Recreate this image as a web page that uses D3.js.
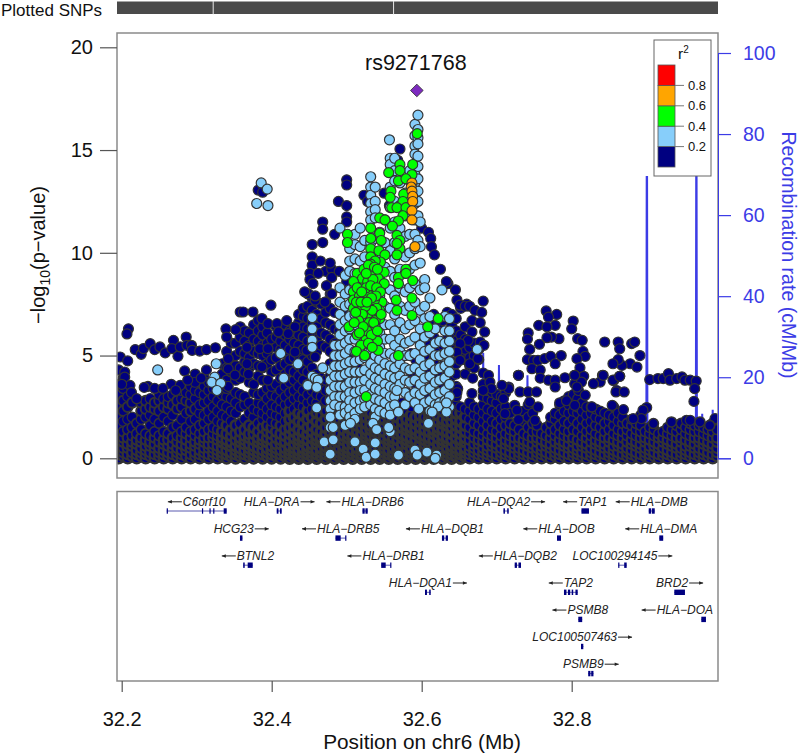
<!DOCTYPE html>
<html><head><meta charset="utf-8">
<script src="https://cdnjs.cloudflare.com/ajax/libs/d3/7.8.5/d3.min.js"></script>
<style>html,body{margin:0;background:#fff}svg{display:block}text{font-family:"Liberation Sans",Arial,sans-serif}</style>
</head><body><svg id="c" width="800" height="754"></svg>
<script>
// r2 < 0.2 : columns of the dense lower mass [position, [-log10p...]]
const navyBaseLeft = [
[32.196,[0,.2,.4,.6,.9,1.2,1.6,2.1,2.6,3.1,3.6,4.3]],[32.202,[.1,.3,.5,.8,1,1.3,1.8,2.3,2.8,3.4,3.9]],[32.208,[0,.2,.5,.7,1,1.4,1.9,2.5,3]],[32.214,[.1,.3,.6,.8,1.1,1.5,2,2.7]],[32.22,[0,.2,.4,.7,.9,1.2,1.7]],[32.226,[.1,.3,.5,.8,1,1.4,1.9,2.3,2.7]],[32.232,[0,.2,.4,.6,.9,1.2,2,2.4,2.8]],[32.238,[.1,.3,.6,.8,1.1,1.6,2.1,2.5,2.9]],[32.244,[0,.2,.5,.7,1,1.3,1.9,2.4,2.7]],[32.25,[.1,.3,.5,.8,1.1,1.7,2.3,2.8,3.1]],[32.256,[0,.2,.4,.7,.9,1.3,2,2.5,2.9]],[32.262,[.1,.3,.6,.9,1.2,1.8,2.4,2.7,3]],[32.268,[0,.2,.5,.7,1,1.5,2.1,2.6,3.1]],[32.274,[.1,.3,.5,.8,1.1,1.6,2.4,2.8]],[32.28,[0,.2,.4,.7,1,1.3,1.9,2.5,2.9,3.3]],[32.286,[.1,.4,.6,.9,1.2,1.5,2.2,2.8,3.2]],[32.292,[0,.2,.5,.7,1,1.3,1.8,2.3,2.7,3.1,3.5]],[32.298,[.1,.3,.6,.8,1.1,1.4,1.9,2.4,2.9,3.3]],[32.304,[0,.2,.4,.7,.9,1.2,1.6,2.2,2.6,3.2,3.7]],[32.31,[.1,.3,.5,.8,1,1.3,1.7,2.1,2.7,3.1,3.5,3.9]],[32.316,[0,.2,.5,.7,1,1.4,1.9,2.3,2.8,3.3,3.7]]
];
const navyBaseCentre = [
[32.322,[.1,.3,.5,.7,1,1.2,1.5,2,2.5,3,3.4]],[32.328,[0,.2,.4,.6,.9,1.1,1.4,1.8,2.3,2.8]],[32.334,[.1,.3,.5,.8,1,1.3,1.7,2.1,2.6,3.1,3.6,4.1,4.6]],[32.34,[0,.2,.4,.7,.9,1.2,1.6,2,2.5,3,3.4,3.8,4.4,5.2]],[32.346,[.1,.3,.6,.8,1.1,1.4,1.8,2.3,2.9,4.2,4.8,5.6]],[32.352,[0,.2,.4,.6,.9,1.2,1.6,2.2,2.7,3.2,3.8,4.5,5,5.6]],[32.358,[.1,.3,.5,.8,1,1.3,1.7,2.5,3.1,3.9,4.4,5.2,5.9,6.4]],[32.364,[0,.2,.4,.7,.9,1.1,1.4,1.9,2.6,3,4.2,4.7,5.1,5.7,6.2]],[32.37,[.1,.3,.5,.7,1,1.2,1.6,2.2,2.7,3.7,4.4,4.9,5.5,6.1]],[32.376,[0,.2,.4,.6,.9,1.2,1.5,2,2.4,3.2,3.6,4.6,5.2,5.8,6.5]],[32.382,[.1,.3,.5,.8,1,1.3,1.7,2.3,2.7,3.1,4,4.5,5.1,5.7,6.2,6.7]],[32.388,[0,.2,.4,.7,.9,1.1,1.5,1.9,2.2,2.6,3.2,3.8,4.4,5,5.5,6,6.4]],[32.394,[.1,.3,.5,.8,1,1.3,1.6,2,2.4,2.9,3.4,4.6,5.1,5.6,6.1]],[32.4,[0,.2,.4,.6,.9,1.2,1.5,1.8,2.2,2.6,3.1,3.5,4.2,4.8,5.4,5.8]],[32.406,[.1,.3,.5,.7,1,1.3,1.7,2.1,2.5,3,3.6,4.3,4.9,5.4,5.9,6.4]],[32.412,[0,.2,.4,.7,.9,1.2,1.6,2,2.4,2.8,3.3,3.9,4.5,5.3,5.7,6.1]],[32.418,[.1,.3,.5,.8,1.1,1.4,1.8,2.2,2.6,3,3.5,4.1,4.6,5.1,5.5,6,6.5]],[32.424,[0,.2,.4,.6,.9,1.2,1.5,1.9,2.3,2.7,3.2,3.7,4.3,4.8,5.3,5.8,6.2]],[32.43,[.1,.3,.5,.7,1,1.3,1.6,2,2.4,2.9,3.3,3.8,4.2,4.9,5.6,6.3]],[32.436,[0,.2,.4,.7,.9,1.1,1.4,1.8,2.2,2.6,3,3.5,4,4.5,5,5.5,6,6.6,7]],[32.442,[.1,.3,.5,.8,1,1.3,1.7,2.1,2.5,2.9,3.3,3.8,4.3,4.8,5.3,5.9,6.4,6.9,7.3]],[32.448,[0,.2,.4,.6,.9,1.2,1.5,1.9,2.3,2.7,3.1,3.6,4.2,4.7,5.2,5.7,6.3,6.8,7.4,8]],[32.454,[.1,.3,.5,.7,1,1.3,1.6,2,2.4,2.8,3.3,4.4,5,5.5,6.1,6.6,7.2,7.8]],[32.46,[0,.2,.4,.7,.9,1.1,1.4,1.8,2.2,2.7,3.1,3.6,4.1,5.2,5.8,6.4,7,7.6]],[32.466,[.1,.3,.5,.8,1,1.3,1.7,2.1,2.5,3,3.5,3.9,5.5,6.1,6.8,7.5]],[32.472,[0,.2,.4,.6,.9,1.2,1.5,1.9,2.3,2.8,3.3,3.8,5.4,6,6.6,7.1,7.6]],[32.478,[.1,.3,.5,.7,1,1.3,1.6,2,2.4,2.9,3.4,4,4.6,5.2,5.8,6.5,7.3,8]],[32.484,[0,.2,.4,.7,.9,1.1,1.4,1.8,2.2,2.6,3,3.6,4.2,4.8,5.6,6.3,7.1]],[32.49,[.1,.3,.5,.8,1,1.2,1.6,1.9,2.3,2.7,3.2,3.8,4.5,5.3,6.2]],[32.496,[0,.2,.4,.6,.9,1.1,1.4,1.7,2.1,2.5,2.9,3.5,4.2,5.1,6.1,7]],[32.502,[.1,.3,.5,.7,1,1.2,1.5,1.9,2.2,2.6,3.2,3.9,4.9]],[32.508,[0,.2,.4,.7,.9,1.1,1.4,1.7,2,2.4,2.8,3.4]],[32.514,[.1,.3,.5,.8,1,1.3,1.6,1.9,2.2,2.6,3.1,3.7,4.4]],[32.52,[0,.2,.4,.6,.9,1.2,1.5,1.8,2.1,2.4,2.9]],[32.526,[.1,.3,.5,.7,1,1.2,1.4,1.7,2,2.3,2.7]],[32.532,[0,.2,.4,.7,.9,1.1,1.4,1.6,1.9,2.2]],[32.538,[.1,.3,.5,.8,1,1.3,1.5,1.8,2.1]],[32.544,[0,.2,.4,.6,.9,1.2,1.4,1.7,2]],[32.55,[.1,.3,.5,.7,1,1.3,1.6,1.9,2.2]],[32.556,[0,.2,.4,.7,.9,1.1,1.4,1.7,2]],[32.562,[.1,.3,.5,.8,1,1.3,1.5,1.8,2.1,2.5]],[32.568,[0,.2,.4,.6,.9,1.2,1.4,1.7,2]],[32.574,[.1,.3,.5,.7,1,1.2,1.5,1.8,2.2,2.7]],[32.58,[0,.2,.4,.7,.9,1.1,1.4,1.6,1.9,2.3,3.2]],[32.586,[.1,.3,.5,.8,1,1.3,1.5,1.8,2.1,2.5,4.2,5.1]],[32.592,[0,.2,.4,.6,.9,1.2,1.4,1.7,2,2.9,3.6,4.8]],[32.598,[.1,.3,.5,.7,1,1.2,1.5,1.8,2.1,2.6,3.5,4.4,5.6]],[32.604,[0,.2,.4,.7,.9,1.1,1.4,1.7,2,2.4,3.1,3.9,5,6.2]],[32.61,[.1,.3,.5,.8,1,1.3,1.6,1.9,2.2,2.6,3.4,4.3,5.5,6.6]],[32.616,[0,.2,.4,.6,.9,1.2,1.4,1.7,2,2.4,3.7,4.7,5.9,7]],[32.622,[.1,.3,.5,.7,1,1.3,1.5,1.8,2.1,2.5,3.2,4,5.2,6.4]],[32.628,[0,.2,.4,.7,.9,1.1,1.4,1.7,1.9,2.3,2.9,3.6,4.5,5.5,6.7]],[32.634,[.1,.3,.5,.8,1,1.3,1.6,1.8,2.1,2.4,3.1,3.7,4.3,5,5.8,7.1]],[32.64,[0,.2,.4,.6,.9,1.2,1.5,1.8,2.1,2.4,2.8,3.4,4,4.7,5.3,5.9,6.5,7]],[32.646,[.1,.3,.5,.7,1,1.3,1.6,1.9,2.2,2.6,3,3.5,4.1,4.6,5.2,5.7,6.2,6.8]],[32.652,[0,.2,.4,.7,.9,1.2,1.5,1.8,2.2,2.5,5,5.5,6,7.3]],[32.658,[.1,.3,.5,.8,1,1.3,1.6,2,2.4,4.8,5.3,5.8,6.4]],[32.664,[0,.2,.4,.6,.9,1.2,1.5,1.9,2.3,2.7,4.5,4.9,5.4]]
];
const navyBaseRight = [
[32.67,[.1,.3,.5,.7,1,1.3,1.7,2.1,2.5,4.4,5,5.6]],[32.676,[0,.2,.4,.7,.9,1.2,1.6,2,2.4,4.8,5.3]],[32.682,[.1,.3,.5,.8,1.1,1.4,1.8,2.2,2.6,3,3.6]],[32.688,[0,.2,.4,.6,.9,1.2,1.6,2,2.4,2.9,3.3]],[32.694,[.1,.3,.6,.8,1.1,1.4,1.8,2.3,2.8,3.2]],[32.7,[0,.2,.5,.7,1,1.3,1.7,2.2,2.7,3.1]],[32.706,[.1,.3,.5,.8,1.1,1.5,1.9,2.4,3]],[32.712,[0,.2,.4,.7,.9,1.2,1.6,2,2.5,3.2]],[32.718,[.1,.3,.6,.8,1.1,1.4,1.7,2.2]],[32.724,[0,.2,.5,.7,1,1.3,1.6]],[32.73,[.1,.3,.5,.8,1,1.4]],[32.736,[0,.2,.4,.7,.9,1.2,1.8,2.3]],[32.742,[.1,.3,.6,.8,1.1,1.5,2,2.6]],[32.748,[0,.2,.5,.7,1,1.3,1.7,2.2]],[32.754,[.1,.3,.5,.8,1,1.3,1.6]],[32.76,[0,.2,.4,.6,.9,1.2]],[32.766,[.1,.3,.6,.8,1.1,1.5]],[32.772,[0,.2,.5,.7,1,1.3,1.7,2]],[32.778,[.1,.3,.5,.8,1.1,1.4,1.9,2.2]],[32.784,[0,.2,.4,.7,.9,1.2,1.6,2.1,2.6]],[32.79,[.1,.3,.6,.8,1.1,1.4,1.8,2.3,2.8]],[32.796,[0,.2,.5,.7,1,1.3,1.7,2.2,2.6,3]],[32.802,[.1,.3,.5,.8,1,1.4,1.9,2.3,2.7,3.1]],[32.808,[0,.2,.4,.6,.9,1.3,1.7,2.2,2.5,2.9]],[32.814,[.1,.3,.6,.8,1.1,1.5,1.9,2.3,2.7]],[32.82,[0,.2,.5,.7,1,1.3,1.7,2.1,2.5]],[32.826,[.1,.3,.5,.8,1.1,1.4,1.8,2.2,2.5]],[32.832,[0,.2,.4,.7,.9,1.2,1.6,2,2.4]],[32.838,[.1,.3,.6,.8,1.1,1.5,1.9,2.3]],[32.844,[0,.2,.5,.7,1,1.3,1.7,2.2]],[32.85,[.1,.3,.5,.8,1,1.4,1.8,2.1]],[32.856,[0,.2,.4,.6,.9,1.2,1.6,2,2.5]],[32.862,[.1,.3,.6,.8,1.1,1.4,1.8,2.2]],[32.868,[0,.2,.5,.7,1,1.3,1.7,2]],[32.874,[.1,.3,.5,.8,1.1,1.4,1.7]],[32.88,[0,.2,.4,.7,.9,1.2,1.6,1.9]],[32.886,[.1,.3,.6,.8,1.1,1.4,1.7]],[32.892,[0,.2,.5,.7,1,1.3,1.6,2.1]],[32.898,[.1,.3,.5,.8,1,1.3]],[32.904,[0,.2,.4,.6,.9,1.2,1.5]],[32.91,[.1,.3,.6,.8,1.1,1.4]],[32.916,[0,.2,.5,.7,1,1.2]],[32.922,[.1,.3,.5,.8,1,1.3]],[32.928,[0,.2,.4,.7,.9,1.2,1.5]],[32.934,[.1,.3,.6,.8,1.1,1.4]],[32.94,[0,.2,.5,.7,1,1.3,1.6]],[32.946,[.1,.3,.5,.8,1,1.4,1.7]],[32.952,[0,.2,.4,.6,.9,1.2,1.5]],[32.958,[.1,.3,.6,.8,1.1,1.4,1.7]],[32.964,[0,.2,.5,.7,1,1.3,1.6]],[32.97,[.1,.3,.5,.8,1,1.3,1.6]],[32.976,[0,.2,.4,.7,.9,1.2,1.5]],[32.982,[.1,.3,.6,.8,1.1,1.4]],[32.988,[0,.2,.5,.7,1,1.3,1.7]],[32.994,[.1,.3,.5,.8,1,1.4,1.9]]
];
// r2 < 0.2 : scattered upper points [position, -log10p]
const navyUpper = [
[32.209,6.3],[32.207,6.05],[32.198,4.93],[32.208,4.74],[32.218,5.29],[32.226,5.06],[32.229,5.34],[32.238,5.58],[32.244,5.29],[32.251,5.42],[32.258,5.13],[32.269,5.74],[32.267,5.34],[32.275,4.96],[32.278,5.42],[32.286,5.9],[32.287,5.5],[32.293,5.5],[32.294,5.25],[32.304,5.22],[32.313,5.29],[32.325,5.38],[32.339,6.3],[32.352,6.26],[32.34,5.9],[32.358,7.12],[32.362,7.12],[32.375,7.12],[32.399,7.45],[32.387,6.8],[32.395,6.55],[32.407,6.55],[32.42,6.7],[32.431,6.4],[32.449,8],[32.458,7.7],[32.471,7.6],[32.48,8],
[32.204,4.2],[32.204,3.95],[32.284,4.25],[32.298,4.1],[32.313,4.3],[32.298,3.7],[32.266,3.6],[32.235,3.5],[32.244,3.4],[32.255,3.4],[32.278,3.55],[32.211,3.55],[32.213,3.2],[32.2,3.6],[32.22,2.9],[32.23,3.45],[32.272,3.3],[32.288,3.8],[32.306,3.9],[32.342,4.35],[32.342,3.5],[32.351,4.05],[32.369,4.1],[32.387,4.45],[32.395,3.8],[32.367,4.6],[32.342,4.85],[32.367,5.4],[32.384,5.34],[32.395,5.34],[32.409,6.15],[32.422,6.07],[32.431,5.17],[32.447,5.25],[32.458,4.93],
[32.382,13.05],[32.388,12.95],[32.5,13.55],[32.5,13.3],[32.489,12.5],[32.5,12.3],[32.468,11.5],[32.468,11.15],[32.5,11.75],[32.5,11.5],[32.484,10.9],[32.454,10.4],[32.468,10.5],[32.454,9.8],[32.454,9.4],[32.451,9],[32.451,8.7],[32.472,9.1],[32.48,9.2],[32.48,8.8],[32.465,9.6],[32.478,9.5],[32.49,9.1],[32.462,9],[32.5,8.6],[32.473,8.4],[32.455,8.5],[32.444,8.1],[32.458,7.9],
[32.571,15.05],[32.568,14.5],[32.523,12.8],[32.528,12.5],[32.55,12.9],[32.557,12.3],[32.587,12.3],[32.6,11.2],[32.609,11],[32.612,10.7],[32.613,10.3],[32.617,9.9],[32.625,9.2],[32.635,8.5],[32.645,8.2],[32.66,7.5],
[32.633,8.6],[32.647,7.7],[32.651,7.45],[32.658,7.4],[32.664,7.4],[32.671,7.2],[32.68,7.1],[32.682,7.65],[32.667,6.7],[32.678,6.6],[32.667,6.15],[32.684,6.15],[32.662,5.74],[32.678,5.66],[32.683,5.5],[32.651,5.58],[32.647,5.17],[32.651,4.77],[32.664,4.6],[32.675,4.85],[32.682,4.15],[32.689,4.04],[32.658,4.1],[32.668,3.9],[32.691,3.7],[32.729,4.04],[32.716,3.47],
[32.742,6.1],[32.741,5.8],[32.756,6.47],[32.766,7.17],[32.78,7],[32.778,6.47],[32.769,6.87],[32.767,6.4],[32.783,5.82],[32.773,5.9],[32.767,5.87],[32.757,5.55],[32.744,5.3],[32.741,4.8],[32.749,4.77],[32.755,4.77],[32.764,4.85],[32.772,4.96],[32.786,5],[32.778,4.6],[32.747,4.36],[32.758,4.3],[32.758,3.9],[32.769,3.8],[32.778,3.8],[32.791,3.92],[32.778,3.47],
[32.802,6.68],[32.8,6.3],[32.808,5.82],[32.814,5.74],[32.815,5.2],[32.818,4.96],[32.807,4.85],[32.811,4.41],[32.816,3.99],[32.804,4.04],[32.804,3.63],[32.813,3.71],[32.809,3.3],
[32.844,5.66],[32.862,5.66],[32.864,5.33],[32.88,5.58],[32.884,5.66],[32.891,5],[32.878,4.6],[32.867,4.52],[32.862,4.8],[32.855,4.6],[32.887,4.44],[32.864,3.99],[32.856,3.79],[32.841,4.04],[32.838,3.71],[32.829,3.63],[32.86,3.3],
[32.904,3.83],[32.915,3.88],[32.922,3.88],[32.929,4.12],[32.931,3.8],[32.94,3.88],[32.947,3.96],[32.951,3.8],[32.958,3.8],[32.966,3.76],[32.964,3.39],[32.963,2.77],[32.9,2.47],[32.895,2.34],[32.893,1.93],[32.882,1.93],[32.909,1.69],[32.933,1.77],[32.953,1.85],[32.958,1.85],[32.971,1.77],[32.991,1.93],[32.984,1.6],
[32.842,4.04],[32.855,3.8],[32.864,3.99],[32.859,3.23],[32.87,3.23],[32.854,2.58],[32.869,2.37],[32.827,2.5],[32.818,3.07],[32.807,3.47],[32.804,4.04],[32.784,2.7],[32.793,2.8],[32.804,2.58],[32.755,2.5],[32.744,2.74],[32.724,2.58],[32.727,2.34],[32.731,3.23],[32.742,3.23],[32.753,3.23],[32.729,4.04],[32.751,1.85],[32.729,1.88],[32.716,3.39],[32.709,2.9],[32.711,2.17],[32.693,3.39],[32.682,3.3],[32.707,3.55],[32.667,3.15],[32.648,3.39],[32.647,3.2]
];
// 0.2 <= r2 < 0.4 : scattered points
const blueLoose = [
[32.248,4.3],[32.326,4.6],[32.324,3.95],[32.32,3.7],[32.332,3.65],[32.327,3.3],[32.412,5.1],[32.435,4.6],[32.416,3.9],[32.386,13.4],[32.394,13.1],[32.38,12.4],[32.395,12.3],
[32.454,6.85],[32.454,6.3],[32.454,5.75],[32.454,5.4],[32.454,4],[32.458,3.9],[32.462,3.8],[32.448,3.55],[32.46,3.45],[32.46,2.45],[32.468,4.4],[32.674,5.3],[32.627,8.2],[32.557,15.5],
[32.47,.8],[32.482,.9],[32.478,.2],[32.478,1.5],[32.482,1.5],[32.498,1.6],[32.505,1.7],[32.511,.8],[32.522,.45],[32.526,.05],[32.538,.75],[32.538,.2],[32.535,1.7],[32.54,1.4],[32.558,1.3],[32.556,1.5],[32.569,.15],[32.591,.4],[32.594,.15],[32.607,.3],[32.62,.15],[32.618,0],[32.609,1.7],[32.596,2.4],[32.569,2.25],[32.567,3.3],[32.622,2.5],[32.633,2.25],[32.633,2.7],[32.614,2.25]
];
// 0.2 <= r2 < 0.4 : vertical streams of points
const blueStreams = [
[32.478,[4.3,3.8,3.3,2.8,2.4,2]],[32.484,[5.5,5,4.5,4,3.5,3,2.6]],[32.491,[11.2,8.3,7.6,7,6.5,6,5.5,5,4.5,4,3.5,3,2.5,2.1]],[32.498,[8.9,8,7.4,6.7,6.2,5.6,5.1,4.6,4.1,3.5,3,2.5,2.2]],[32.504,[10.2,9.6,9.1,8.2,7.5,6.9,6.3,5.8,5.3,4.7,4.2,3.7,3.2,2.8,2.4,2]],[32.511,[10.9,10.4,9.7,9,8.4,7.7,7,6.5,5.8,5.2,4.7,4.2,3.7,3.2,2.7,2.2,1.9]],[32.518,[11.2,10.3,9.6,8.9,8.2,7.5,6.8,6.1,5.4,4.8,4.2,3.7,3.3,2.8,2.4]],[32.524,[10.6,9.8,9.2,8.5,7.7,6.9,6.2,5.6,4.9,4.3,3.8,3.3,2.9,2.5]],[32.532,[13.7,13.2,12.8,12.4,12,11.6,10.5,9.5,8.5,7.5,6.6,5.9,5.2,4.6,4.1,3.6,3.1,2.6]],[32.538,[13.2,12.5,12.1,11.7,10.7,9.3,8.3,7.2,6.4,5.6,5,4.4,3.9,3.4,2.9,2.4,2]],[32.544,[11,10,8.9,7.9,6.9,6.1,5.4,4.8,4.3,3.8,3.3,2.8,2.3]],[32.551,[11.6,10.5,9.3,8.3,7.4,6.5,5.8,5.1,4.6,4.1,3.6,3.2,2.7,2.2]],[32.558,[14.6,14.3,13.2,12.2,11.2,10.1,9.1,8.2,7.3,6.5,5.8,5.1,4.5,4,3.5,3,2.5,2.1]],[32.564,[14.6,14,13.5,12.5,11.5,10.5,9.7,8.8,7.9,7,6.2,5.5,4.9,4.4,3.9,3.4,3,2.6]],[32.571,[13.4,12.3,11.2,10.1,9.2,8.3,7.4,6.6,5.8,5.2,4.6,4,3.6]],[32.578,[12.9,11.8,10.8,9.8,9,8.1,7.2,6.3,5.6,5,4.4,3.8,3.2,2.6]],[32.584,[14,13.5,12.7,11.8,10.9,10,9.2,8.3,7.4,6.5,5.7,5,4.3,3.7,3]],[32.591,[16.25,15.7,15.2,14.8,14.3,13.8,13.4,12.9,12.4,11.6,10.9,10.2,9.4,8.5,7.6,6.7,5.9,5.1,4.4,3.8,3.2,2.7]],[32.595,[16.7,16,15.6,15.3,14.7,14.2,13.6,13,12.5,11.8,10.6]],[32.598,[11.5,10.3,9.5,8.2,7.2,6.3,5.5,4.8,4.2,3.6,3.1]],[32.604,[8.7,8.3,7.4,6.8,5.9,5.2,4.5,3.9,3.3,2.7]],[32.611,[7.8,6.9,6.1,5.3,4.6,4,3.4,2.8,2.3]],[32.618,[6.3,5.6,5,4.3,3.7,3.1,2.6]],[32.624,[5.7,5,4.4,3.8,3.2,2.7]],[32.631,[6.9,6.2,5.6,5.1,4.5,3.9,3.3,2.8,2.4]],[32.637,[6.8,6.2,5.7,5.2,4.7,4.2,3.6,3,2.5]]
];
// 0.4 <= r2 < 0.6
const greenPts = [
[32.594,15.8],[32.556,13.9],[32.571,14.3],[32.571,14],[32.588,14.3],[32.587,13.8],[32.569,13.5],[32.579,13.6],[32.559,13],[32.558,12.7],[32.576,12.85],[32.575,12.5],[32.56,12.2],[32.567,12.2],[32.579,12.2],[32.575,11.8],[32.544,11.7],[32.551,11.6],[32.569,11.55],[32.561,11.3],[32.532,11.2],[32.501,10.9],[32.501,10.5],[32.532,10.7],[32.544,10.95],[32.546,10.6],[32.567,10.85],[32.571,10.6],[32.571,10.2],[32.567,10.45],[32.532,10.2],[32.532,9.8],[32.543,10.1],[32.551,9.9],[32.545,9.55],[32.538,9.6],[32.532,9.45],[32.567,9.9],[32.514,9],[32.521,8.75],[32.509,8.6],[32.535,9.05],[32.55,9.05],[32.542,8.75],[32.55,8.5],[32.569,8.8],[32.569,8.5],[32.579,9.2],[32.579,9],[32.588,8.65],[32.509,8.1],[32.509,7.7],[32.524,7.85],[32.535,8.2],[32.547,7.6],[32.566,7.7],[32.587,7.8],[32.509,7.3],[32.52,7.35],[32.531,7.5],[32.544,7.2],[32.567,7.2],[32.587,6.95],[32.533,6.9],[32.544,6.8],[32.503,6.4],[32.514,6],[32.526,6.2],[32.535,6.4],[32.526,5.8],[32.519,5.5],[32.541,5.7],[32.542,5.25],[32.513,5.2],[32.524,5],[32.569,5],[32.608,6.4],[32.622,6.8],[32.526,3],
[32.517,7.9],[32.522,8.3],[32.528,8],[32.53,7.6],[32.537,7.7],[32.54,7.3],[32.528,7],[32.534,7.2],[32.525,7.4],[32.538,6.7],[32.53,6.6],[32.521,7],[32.516,6.7],[32.512,7.1],[32.528,8.6],[32.523,9.2],[32.529,9.4],[32.537,9.3],[32.535,8.7],[32.527,6.2],[32.533,6],[32.51,6.6],
[32.514,8.3],[32.513,7.6],[32.519,7.6],[32.526,8.3],[32.532,8.4],[32.54,8.3],[32.545,8.1],[32.539,7.9],[32.533,7.8],[32.527,7.6],[32.522,6.4],[32.517,6.1],[32.536,6.6],[32.541,6.2],[32.529,5.6],[32.534,5.4],[32.546,7],[32.52,8.1],[32.526,9],[32.541,9.2]
];
// 0.6 <= r2 < 0.8
const orangePts = [[32.587,13.4],[32.586,13.2],[32.587,13.0],[32.588,12.75],[32.588,12.5],[32.587,12.05],[32.587,11.6],[32.591,10.3]];
const leadSnp = {name:"rs9271768", pos:32.5935, p:17.9};
// recombination rate track
const recombPos = [32.194,32.281,32.282,32.283,32.366,32.367,32.368,32.381,32.382,32.383,32.681,32.682,32.683,32.702,32.703,32.704,32.74,32.741,32.742,32.797,32.798,32.799,32.8995,32.9,32.9005,32.901,32.9655,32.966,32.9665,32.967,32.973,32.974,32.975,32.987,32.988,32.989,32.995];
const recombRate = [1,1,4,1,1,6,1,1,6,1,1,26,1,1,23,1,1,20.5,1,1,12,1,1,69.4,69.4,1,1,70,70,1,1,11,1,1,12,1,1];
// genes
const geneNames = ["C6orf10","HLA\u2212DRA","HLA\u2212DRB6","HLA\u2212DQA2","TAP1","HLA\u2212DMB","HCG23","HLA\u2212DRB5","HLA\u2212DQB1","HLA\u2212DOB","HLA\u2212DMA","BTNL2","HLA\u2212DRB1","HLA\u2212DQB2","LOC100294145","HLA\u2212DQA1","TAP2","BRD2","PSMB8","HLA\u2212DOA","LOC100507463","PSMB9"];
const geneStart = [32.26,32.4067,32.521,32.709,32.813,32.9027,32.3577,32.485,32.627,32.7804,32.9168,32.362,32.546,32.724,32.862,32.6044,32.7897,32.9368,32.8088,32.9728,32.8124,32.822];
const geneEnd = [32.34,32.4133,32.528,32.716,32.823,32.9107,32.361,32.499,32.635,32.7857,32.922,32.3747,32.559,32.7324,32.8733,32.612,32.808,32.951,32.814,32.979,32.8155,32.829];
const geneRow = [0,0,0,0,0,0,1,1,1,1,1,2,2,2,2,3,3,3,4,4,5,6];
const geneStrand = [-1,1,-1,1,-1,-1,1,-1,-1,-1,-1,-1,-1,-1,1,1,-1,1,-1,-1,1,1];
const geneExons = [[[32.26,32.2607],[32.307,32.3077],[32.317,32.3177],[32.322,32.3227],[32.336,32.34]],[[32.4067,32.409],[32.411,32.4133]],[[32.521,32.524],[32.525,32.528]],[[32.709,32.711],[32.714,32.716]],[[32.813,32.823]],[[32.9027,32.906],[32.907,32.9107]],[[32.3577,32.361]],[[32.485,32.492],[32.498,32.499]],[[32.627,32.63],[32.632,32.635]],[[32.7804,32.7857]],[[32.9168,32.922]],[[32.362,32.364],[32.368,32.3747]],[[32.546,32.552],[32.558,32.559]],[[32.724,32.727],[32.729,32.7324]],[[32.862,32.8635],[32.87,32.8733]],[[32.6044,32.607],[32.61,32.612]],[[32.7897,32.793],[32.795,32.798],[32.8,32.802],[32.805,32.808]],[[32.9368,32.951]],[[32.8088,32.814]],[[32.9728,32.979]],[[32.8124,32.8155]],[[32.822,32.825],[32.826,32.829]]];
// axes, legend, rug
const xTicks = [32.2,32.4,32.6,32.8];
const yTicks = [0,5,10,15,20];
const rTicks = [0,20,40,60,80,100];
const rugGaps = [32.322,32.5625];
const legendBreaks = [0,.2,.4,.6,.8,1];
const legendColors = ["#000080","#87CEFA","#00FF00","#FFA500","#FF0000"];
const legendTicks = [.2,.4,.6,.8];

const svg = d3.select("#c");
const L=117,R=718,T=33,B=478;
const x = d3.scaleLinear().domain([32.2,32.8]).range([121.7,571.7]);
const y = d3.scaleLinear().domain([0,20]).range([458.3,47.3]);
const yr = d3.scaleLinear().domain([0,100]).range([458.3,53]);
const grey="#8a8a8a", ptStroke="#333";

// rug
svg.append("text").attr("x",1).attr("y",15.5).attr("font-size",17).attr("fill","#111").text("Plotted SNPs");
svg.append("rect").attr("x",L).attr("y",1.5).attr("width",R-L).attr("height",12.5).attr("fill","#4a4a4a");
svg.selectAll(".gap").data(rugGaps).join("line").attr("x1",d=>x(d)).attr("x2",d=>x(d)).attr("y1",1).attr("y2",14.5).attr("stroke","#e8e8e8").attr("stroke-width",1);

// main panel
svg.append("clipPath").attr("id","cp").append("rect").attr("x",L).attr("y",T).attr("width",R-L).attr("height",B-T);
const main = svg.append("g").attr("clip-path","url(#cp)");
const recLine = d3.line().x((d,i)=>x(recombPos[i])).y(d=>yr(d));
main.append("path").attr("d",recLine(recombRate)).attr("fill","none").attr("stroke","#3c3ce6").attr("stroke-width",2);

const expand = cols => cols.flatMap(([p,vs])=>vs.map(v=>[p,v]));
// the overlap of many thousands of outlines reads as a dark mass low down
const navyStroke = d => {
  const [p,v]=d;
  if(p>32.42&&p<32.66&&v<2.4) return 3.2;
  if(p>32.33&&p<=32.42&&v<1.7) return 2.8;
  if(v<1.1) return 2.3;
  if(p<32.3&&v>2.2&&v<2.9) return 2;
  if(v<1.8) return 1.6;
  return 1.2;
};
const navyPts = [...expand(navyBaseLeft),...expand(navyBaseCentre),...expand(navyBaseRight),...navyUpper];
const layers = [
 {pts:navyPts,c:legendColors[0],sw:navyStroke},
 {pts:[...expand(blueStreams),...blueLoose],c:legendColors[1],sw:()=>1.2},
 {pts:greenPts,c:legendColors[2],sw:()=>1.1},
 {pts:orangePts,c:legendColors[3],sw:()=>1.1}
];
layers.forEach(l=>{
 main.append("g").selectAll("circle").data(l.pts).join("circle")
  .attr("cx",d=>x(d[0])).attr("cy",d=>y(d[1])).attr("r",5)
  .attr("fill",l.c).attr("stroke",ptStroke).attr("stroke-width",l.sw);
});
main.append("path").attr("d",d3.symbol(d3.symbolSquare,80)())
 .attr("transform",`translate(${x(leadSnp.pos)},${y(leadSnp.p)}) rotate(45)`)
 .attr("fill","#7d2bbf").attr("stroke",ptStroke).attr("stroke-width",.8);
svg.append("text").attr("x",x(leadSnp.pos)-1).attr("y",70).attr("text-anchor","middle").attr("font-size",21.5).attr("fill","#111").text(leadSnp.name);

svg.append("rect").attr("x",L).attr("y",T).attr("width",R-L).attr("height",B-T).attr("fill","none").attr("stroke",grey).attr("stroke-width",1.5);

function styleAxis(g,col,size){
 g.select(".domain").attr("stroke",col);
 g.selectAll(".tick line").attr("stroke",col).attr("stroke-width",1.2);
 g.selectAll(".tick text").attr("fill",col==="#3c3ce6"?col:"#111").attr("font-size",size).attr("font-family","Liberation Sans");
}
// left axis
const ay = svg.append("g").attr("transform",`translate(${L},0)`).call(d3.axisLeft(y).tickValues(yTicks).tickSize(17).tickPadding(7));
styleAxis(ay,"#555",20); ay.select(".domain").remove();
const tl = svg.append("text").attr("transform","translate(45,255) rotate(-90)").attr("text-anchor","middle").attr("font-size",20).attr("fill","#111");
tl.append("tspan").text("\u2212log");
tl.append("tspan").attr("font-size",14).attr("dy",5).text("10");
tl.append("tspan").attr("dy",-5).text("(p\u2212value)");
// right axis
const ar = svg.append("g").attr("transform",`translate(${R},0)`).call(d3.axisRight(yr).tickValues(rTicks).tickSize(13).tickPadding(12));
styleAxis(ar,"#3c3ce6",19.5);
ar.select(".domain").attr("stroke-width",1);
svg.append("text").attr("transform","translate(782,255) rotate(90)").attr("text-anchor","middle").attr("font-size",19.6).attr("fill","#3c3ce6").text("Recombination rate (cM/Mb)");

// legend
const leg = svg.append("g");
const ly = d3.scaleLinear().domain([0,1]).range([167,65]);
leg.append("rect").attr("x",654).attr("y",40).attr("width",57).attr("height",136).attr("fill","#fff").attr("stroke","#666").attr("stroke-width",1);
leg.selectAll(".b").data(legendColors).join("rect").attr("x",658).attr("width",17)
 .attr("y",(d,i)=>ly(legendBreaks[i+1])).attr("height",(d,i)=>ly(legendBreaks[i])-ly(legendBreaks[i+1]))
 .attr("fill",d=>d).attr("stroke","#555").attr("stroke-width",.8);
leg.selectAll(".t").data(legendTicks).join("line").attr("x1",675).attr("x2",684).attr("y1",d=>ly(d)).attr("y2",d=>ly(d)).attr("stroke","#777").attr("stroke-width",1);
leg.selectAll(".l").data(legendTicks).join("text").attr("x",688).attr("y",d=>ly(d)+4.5).attr("font-size",13).attr("fill","#111").text(d=>d.toFixed(1));
const r2 = leg.append("text").attr("x",678).attr("y",59).attr("font-size",15.5).attr("fill","#111");
r2.append("tspan").text("r");
r2.append("tspan").attr("font-size",10).attr("dy",-6).text("2");

// gene panel
const GT=491.5,GB=681;
svg.append("rect").attr("x",L).attr("y",GT).attr("width",R-L).attr("height",GB-GT).attr("fill","none").attr("stroke",grey).attr("stroke-width",1.5);
const rowLabel = d3.scaleLinear().domain([0,6]).range([505.8,668.2]);
const rowMark = d3.scaleLinear().domain([0,6]).range([511,673.6]);
const gg = svg.append("g");
geneNames.forEach((name,i)=>{
 const g = gg.append("g");
 const my = rowMark(geneRow[i]);
 g.append("line").attr("x1",x(geneStart[i])).attr("x2",x(geneEnd[i])).attr("y1",my).attr("y2",my).attr("stroke","#5a5ab0").attr("stroke-width",1);
 g.selectAll("rect").data(geneExons[i]).join("rect").attr("x",d=>x(d[0])).attr("width",d=>Math.max(1.2,x(d[1])-x(d[0]))).attr("y",my-2.7).attr("height",5.4).attr("fill","#000080");
 const t = g.append("text").attr("y",rowLabel(geneRow[i])).attr("font-size",12).attr("font-style","italic").attr("fill","#222").text(name);
 const w = t.node().getComputedTextLength();
 const aw = 14, total = w+aw+1;
 const mid = (x(geneStart[i])+x(geneEnd[i]))/2;
 let left = mid-total/2;
 if(left+total>713) left = 713-total;
 const ay0 = rowLabel(geneRow[i])-4;
 const a0 = geneStrand[i]<0 ? left : left+w+1;
 t.attr("x", geneStrand[i]<0 ? left+aw+1 : left);
 const tipX = geneStrand[i]<0 ? a0 : a0+aw, dir = geneStrand[i]<0 ? 1 : -1;
 g.append("line").attr("x1",a0).attr("x2",a0+aw).attr("y1",ay0).attr("y2",ay0).attr("stroke","#222").attr("stroke-width",1);
 g.append("path").attr("d",`M${tipX},${ay0}L${tipX+dir*4},${ay0-1.8}L${tipX+dir*4},${ay0+1.8}Z`).attr("fill","#222");
});
// x axis
const ax = svg.append("g").attr("transform",`translate(0,${GB})`).call(d3.axisBottom(x).tickValues(xTicks).tickFormat(d3.format(".1f")).tickSize(11).tickPadding(20));
styleAxis(ax,"#555",20); ax.select(".domain").remove();
svg.append("text").attr("x",422).attr("y",749).attr("text-anchor","middle").attr("font-size",20.8).attr("fill","#111").text("Position on chr6 (Mb)");
</script></body></html>
